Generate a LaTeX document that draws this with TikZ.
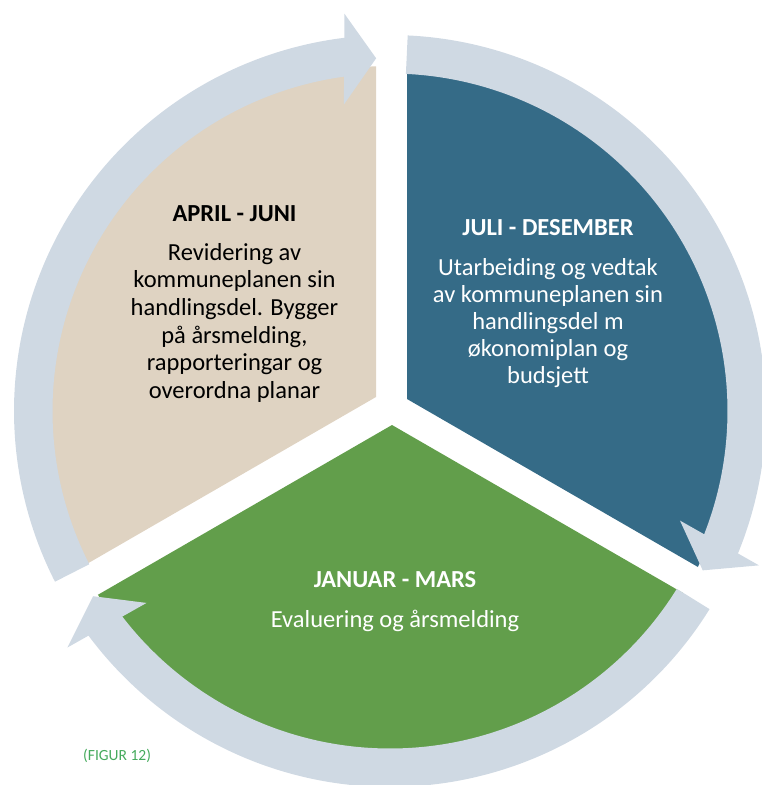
\documentclass[tikz,border=0pt]{standalone}
\usepackage{fontspec}
\setmainfont{Carlito}
\definecolor{beigec}{HTML}{DFD3C2}
\definecolor{bluec}{HTML}{356B87}
\definecolor{greenc}{HTML}{629E4B}
\definecolor{ringc}{HTML}{CFD9E3}
\definecolor{figc}{HTML}{45AA5C}
\tikzset{
  ringarrow/.style={fill=ringc, draw=none},
  titlet/.style={font={\fontsize{24.5}{27.6}\selectfont\bfseries}, inner sep=0pt, anchor=base},
  bodyt/.style={font={\fontsize{24.5}{27.6}\selectfont}, inner sep=0pt, align=center},
}
\begin{document}
\begin{tikzpicture}[x=1pt,y=1pt]
\useasboundingbox (0,-785) rectangle (761,0);
% sectors
\begin{scope}
  \clip (390,-411) circle[radius=345pt];
  \fill[beigec] (376,-397) -- +(90:800pt) -- +(150:800pt) -- +(210:800pt) -- cycle;
  \fill[bluec] (407,-399) -- +(-30:800pt) -- +(30:800pt) -- +(90:800pt) -- cycle;
  \fill[greenc] (392,-425) -- +(210:800pt) -- +(270:800pt) -- +(330:800pt) -- cycle;
\end{scope}
% ring arrows
\begin{scope}[shift={(390,-411)}]
  % arrow 1 (top-left)
  \fill[ringarrow] (207:337.5pt) arc[start angle=207, end angle=96.75, radius=337.5pt]
     -- (96.75:376pt) arc[start angle=96.75, end angle=207, radius=376pt] -- cycle;
  \fill[ringarrow] (92.25:353pt) -- (96.55:400pt) -- (98.55:310pt) -- cycle;
  % arrow 2 (right)
  \fill[ringarrow] (87.3:337.5pt) arc[start angle=87.3, end angle=-22.5, radius=337.5pt]
     -- (-22.5:376pt) arc[start angle=-22.5, end angle=87.3, radius=376pt] -- cycle;
  \fill[ringarrow] (-27:351pt) -- (-22.7:400pt) -- (-20.7:310pt) -- cycle;
  % arrow 3 (bottom)
  \fill[ringarrow] (328.2:337.5pt) arc[start angle=328.2, end angle=216.45, radius=337.5pt]
     -- (216.45:376pt) arc[start angle=216.45, end angle=328.2, radius=376pt] -- cycle;
  \fill[ringarrow] (211.95:350pt) -- (216.25:400pt) -- (218.25:310pt) -- cycle;
\end{scope}
% texts
\node[titlet, text=black] (t1) at (234.5,-221) {APRIL - JUNI};
\node[bodyt, text=black, anchor=north] (b1) at (234.5,-243) {Revidering av\\kommuneplanen sin\\handlingsdel. Bygger\\på årsmelding,\\rapporteringar og\\overordna planar};
\node[titlet, text=white] (t2) at (548,-235) {JULI - DESEMBER};
\node[bodyt, text=white, anchor=north, font={\fontsize{24.5}{27}\selectfont}] (b2) at (548,-258) {Utarbeiding og vedtak\\av kommuneplanen sin\\handlingsdel m\\økonomiplan og\\budsjett};
\node[titlet, text=white] (t3) at (395,-587) {JANUAR - MARS};
\node[bodyt, text=white, anchor=base] (b3) at (395,-627) {Evaluering og årsmelding};
\node[font={\fontsize{15.5}{18}\selectfont}, text=figc, inner sep=0pt, anchor=base west] (fig) at (83,-760) {(FIGUR 12)};
\end{tikzpicture}
\end{document}
